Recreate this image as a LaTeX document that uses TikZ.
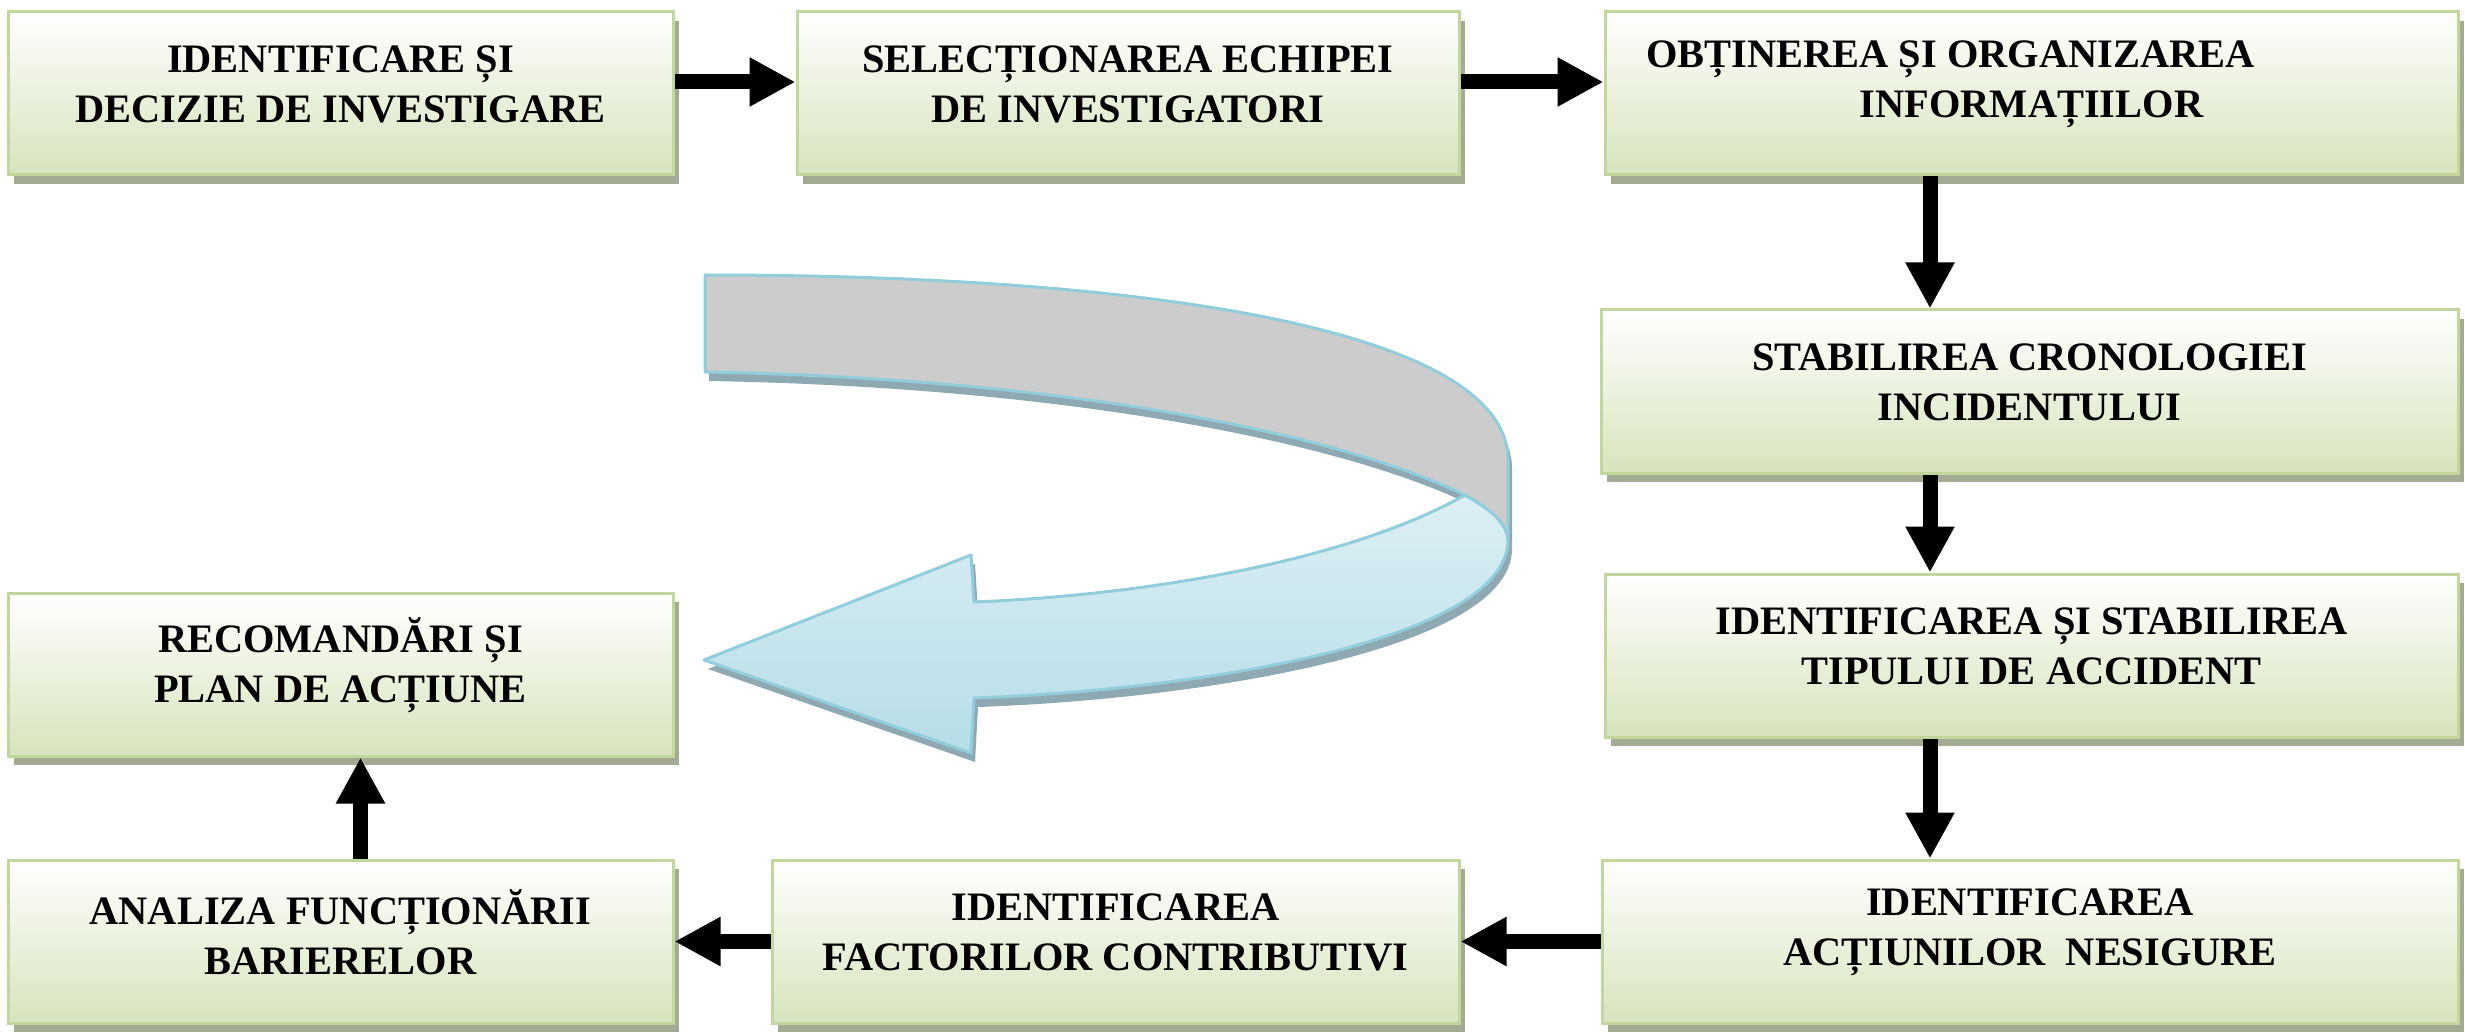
\documentclass[tikz,border=0pt]{standalone}
\usepackage{fontspec}
\setmainfont{Liberation Serif}
\usetikzlibrary{arrows.meta,shadows}
\definecolor{boxtop}{HTML}{FFFFFF}
\definecolor{boxmid}{HTML}{EBF1DE}
\definecolor{boxbot}{HTML}{D7E4BD}
\definecolor{boxline}{HTML}{C3D69B}
\definecolor{boxshadow}{HTML}{A3AB92}
\definecolor{ribline}{HTML}{92CDDC}
\definecolor{ribgrey}{HTML}{CCCCCC}
\definecolor{ribtop}{HTML}{DCEFF4}
\definecolor{ribbot}{HTML}{B6DDE8}
\definecolor{ribshadow}{HTML}{8FA9B2}
\begin{document}
\begin{tikzpicture}[x=0.5pt,y=-0.5pt,
  stepbox/.style={draw=boxline, line width=1.5pt, top color=boxtop, middle color=boxmid, bottom color=boxbot,
    minimum height=81.5pt, inner sep=0pt,
    drop shadow={shadow xshift=3pt, shadow yshift=-4.5pt, fill=boxshadow, opacity=1}},
  txt/.style={font=\fontsize{20.2pt}{25pt}\selectfont\bfseries, align=center, inner sep=0pt},
  flow/.style={line width=7.5pt, -{Triangle[length=23pt,width=23pt]}},
  ribedge/.style={draw=ribline, line width=1.5pt, line join=round}
]
\useasboundingbox (0,0) rectangle (2465,1032);

% curved ribbon arrow
\def\backpath{(705,275) .. controls (1150,275) and (1508,330) .. (1508,460) -- (1508,540) .. controls (1505,520) and (1490,510) .. (1465,495) .. controls (1330,430) and (1050,378) .. (705,372) -- cycle}
\def\frontpath{(1465,495) .. controls (1490,510) and (1505,520) .. (1508,540) .. controls (1508,640) and (1200,690) .. (974,698) -- (971,753) -- (704,660) -- (971,555) -- (974,602) .. controls (1150,595) and (1350,560) .. (1465,495) -- cycle}
\begin{scope}[shift={(4,9)}]
  \fill[ribshadow] \backpath;
  \fill[ribshadow] \frontpath;
\end{scope}
\path[ribedge, fill=ribgrey] \backpath;
\path[ribedge, top color=ribtop, bottom color=ribbot] \frontpath;

% boxes
\node[stepbox, minimum width=332.5pt] (b1) at (340.5,93.5) {};
\node[stepbox, minimum width=331pt]   (b2) at (1128,93.5) {};
\node[stepbox, minimum width=426.5pt] (b3) at (2031.5,93.5) {};
\node[stepbox, minimum width=428.5pt] (b4) at (2029.5,391.5) {};
\node[stepbox, minimum width=426.5pt] (b5) at (2031.5,655.5) {};
\node[stepbox, minimum width=428pt]   (b6) at (2030,941.5) {};
\node[stepbox, minimum width=343.5pt] (b7) at (1115.5,941.5) {};
\node[stepbox, minimum width=332.5pt] (b8) at (340.5,941.5) {};
\node[stepbox, minimum width=332.5pt] (b9) at (340.5,674.5) {};

% texts
\node[txt] (t1) at ([yshift=4.5pt]b1.center) {IDENTIFICARE ȘI\\DECIZIE DE INVESTIGARE};
\node[txt] (t2) at ([yshift=4.5pt]b2.center) {SELECȚIONAREA ECHIPEI\\DE INVESTIGATORI};
\node[txt] (t3) at ([yshift=4.5pt]b3.center) {OBȚINEREA ȘI ORGANIZAREA\hspace*{81pt}\\INFORMAȚIILOR};
\node[txt] (t4) at ([yshift=4.5pt]b4.center) {STABILIREA CRONOLOGIEI\\INCIDENTULUI};
\node[txt] (t5) at ([yshift=4.5pt]b5.center) {IDENTIFICAREA ȘI STABILIREA\\TIPULUI DE ACCIDENT};
\node[txt] (t6) at ([yshift=4.5pt]b6.center) {IDENTIFICAREA\\ACȚIUNILOR\ \ NESIGURE};
\node[txt] (t7) at ([yshift=4.5pt]b7.center) {IDENTIFICAREA\\FACTORILOR CONTRIBUTIVI};
\node[txt] (t8) at ([yshift=4.5pt]b8.center) {ANALIZA FUNCȚIONĂRII\\BARIERELOR};
\node[txt] (t9) at ([yshift=4.5pt]b9.center) {RECOMANDĂRI ȘI\\PLAN DE ACȚIUNE};

% connectors
\draw[flow] ([yshift=5.75pt]b1.east) -- ([yshift=5.75pt]b2.west);
\draw[flow] ([yshift=5.75pt]b2.east) -- ([yshift=5.75pt]b3.west);
\coordinate (v) at ([xshift=-50.75pt]b3.south);
\draw[flow] (v) -- (v |- b4.north);
\draw[flow] (v |- b4.south) -- (v |- b5.north);
\draw[flow] (v |- b5.south) -- (v |- b6.north);
\draw[flow] (b6.west) -- (b7.east);
\draw[flow] (b7.west) -- (b8.east);
\draw[flow] ([xshift=10pt]b8.north) -- ([xshift=10pt]b9.south);
\end{tikzpicture}
\end{document}
